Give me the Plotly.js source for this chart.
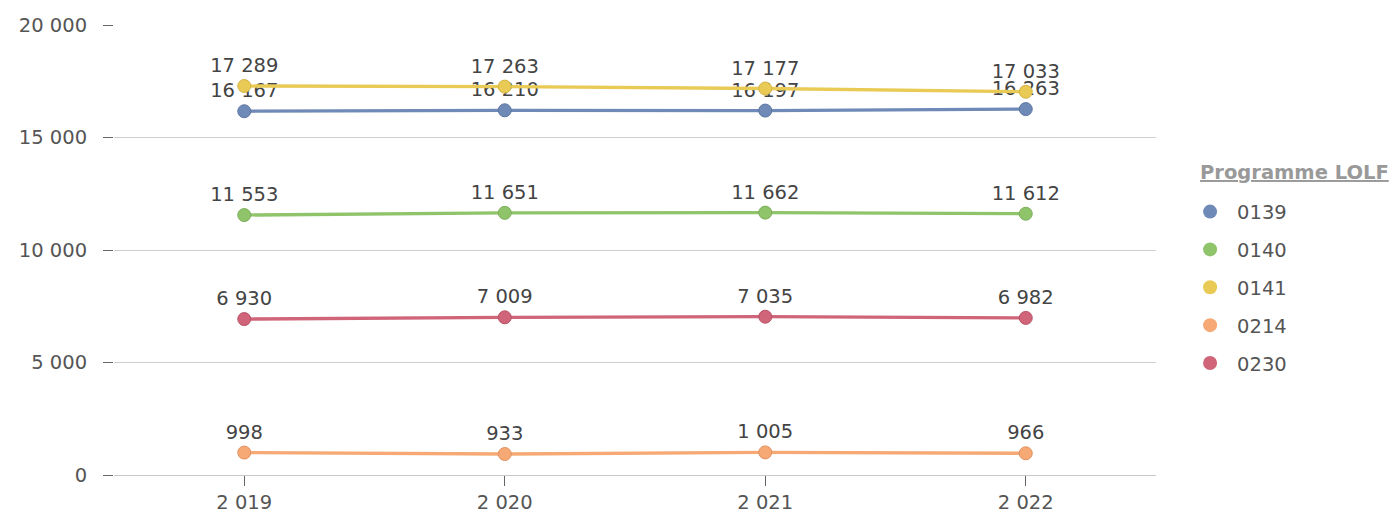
<!DOCTYPE html>
<html>
<head>
<meta charset="utf-8">
<script src="https://cdn.plot.ly/plotly-3.0.1.min.js"></script>
<style>html,body{margin:0;padding:0;background:#fff;}#chart{width:1392px;height:513px;}</style>
</head>
<body>
<div id="chart"></div>
<script>
const years = [2019, 2020, 2021, 2022];
const seriesNames = ['0139', '0140', '0141', '0214', '0230'];
const s0139 = [16167, 16210, 16197, 16263];
const s0140 = [11553, 11651, 11662, 11612];
const s0141 = [17289, 17263, 17177, 17033];
const s0214 = [998, 933, 1005, 966];
const s0230 = [6930, 7009, 7035, 6982];
const seriesValues = [s0139, s0140, s0141, s0214, s0230];
const legendTitle = 'Programme LOLF';
const colors = ['#6f8ab7', '#8fc46b', '#e8ca55', '#f6a974', '#d06479'];
const borders = ['#5d77a2', '#7cae5a', '#d2b443', '#e0915f', '#b95267'];

const FONT = 'DejaVu Sans, sans-serif';
const traces = [];
seriesNames.forEach((name, i) => {
  traces.push({
    type: 'scatter', mode: 'lines+markers+text',
    x: years, y: seriesValues[i], name: name,
    showlegend: false, legendgroup: name,
    line: {color: colors[i], width: 3.3},
    marker: {color: colors[i], size: 13, line: {color: borders[i], width: 1}},
    texttemplate: '%{y:,d}', textposition: 'top center',
    textfont: {family: FONT, size: 19.5, color: '#444'},
    cliponaxis: false, hoverinfo: 'x+y+name'
  });
});
seriesNames.forEach((name, i) => {
  traces.push({
    type: 'scatter', mode: 'markers', x: [null], y: [null], name: name,
    legendgroup: name, showlegend: true,
    marker: {color: colors[i], size: 14}
  });
});

const layout = {
  width: 1392, height: 513,
  margin: {l: 114, r: 236, t: 25, b: 38},
  paper_bgcolor: '#fff', plot_bgcolor: '#fff',
  separators: ', ',
  font: {family: FONT, size: 19.5, color: '#555'},
  xaxis: {
    range: [2018.5, 2022.5], tickvals: years, tickformat: ',d',
    showgrid: false, zeroline: false,
    showline: true, linecolor: '#c8c8c8', linewidth: 1,
    ticks: 'outside', ticklen: 10, tickcolor: '#666', tickwidth: 1,
    tickfont: {family: FONT, size: 19.5, color: '#555'}
  },
  yaxis: {
    range: [0, 20000], tickvals: [0, 5000, 10000, 15000, 20000], tickformat: ',d',
    showgrid: true, gridcolor: '#cfcfcf', gridwidth: 1, zeroline: false, showline: false,
    ticks: 'outside', ticklen: 10, tickcolor: '#666', tickwidth: 1,
    ticklabelstandoff: 12,
    tickfont: {family: FONT, size: 19.5, color: '#555'}
  },
  legend: {
    x: 1.026, xanchor: 'left', y: 0.628, yanchor: 'top',
    font: {family: FONT, size: 19.5, color: '#555'},
    tracegroupgap: 9.5, itemwidth: 44, itemclick: false
  },
  annotations: [{
    xref: 'paper', yref: 'paper', x: 1.0405, y: 0.6733,
    xanchor: 'left', yanchor: 'middle', showarrow: false,
    text: '<b><u>' + legendTitle + '</u></b>',
    font: {family: FONT, size: 19.5, color: '#999'}
  }],
  showlegend: true
};
Plotly.newPlot('chart', traces, layout, {displayModeBar: false, staticPlot: true});
</script>
</body>
</html>
